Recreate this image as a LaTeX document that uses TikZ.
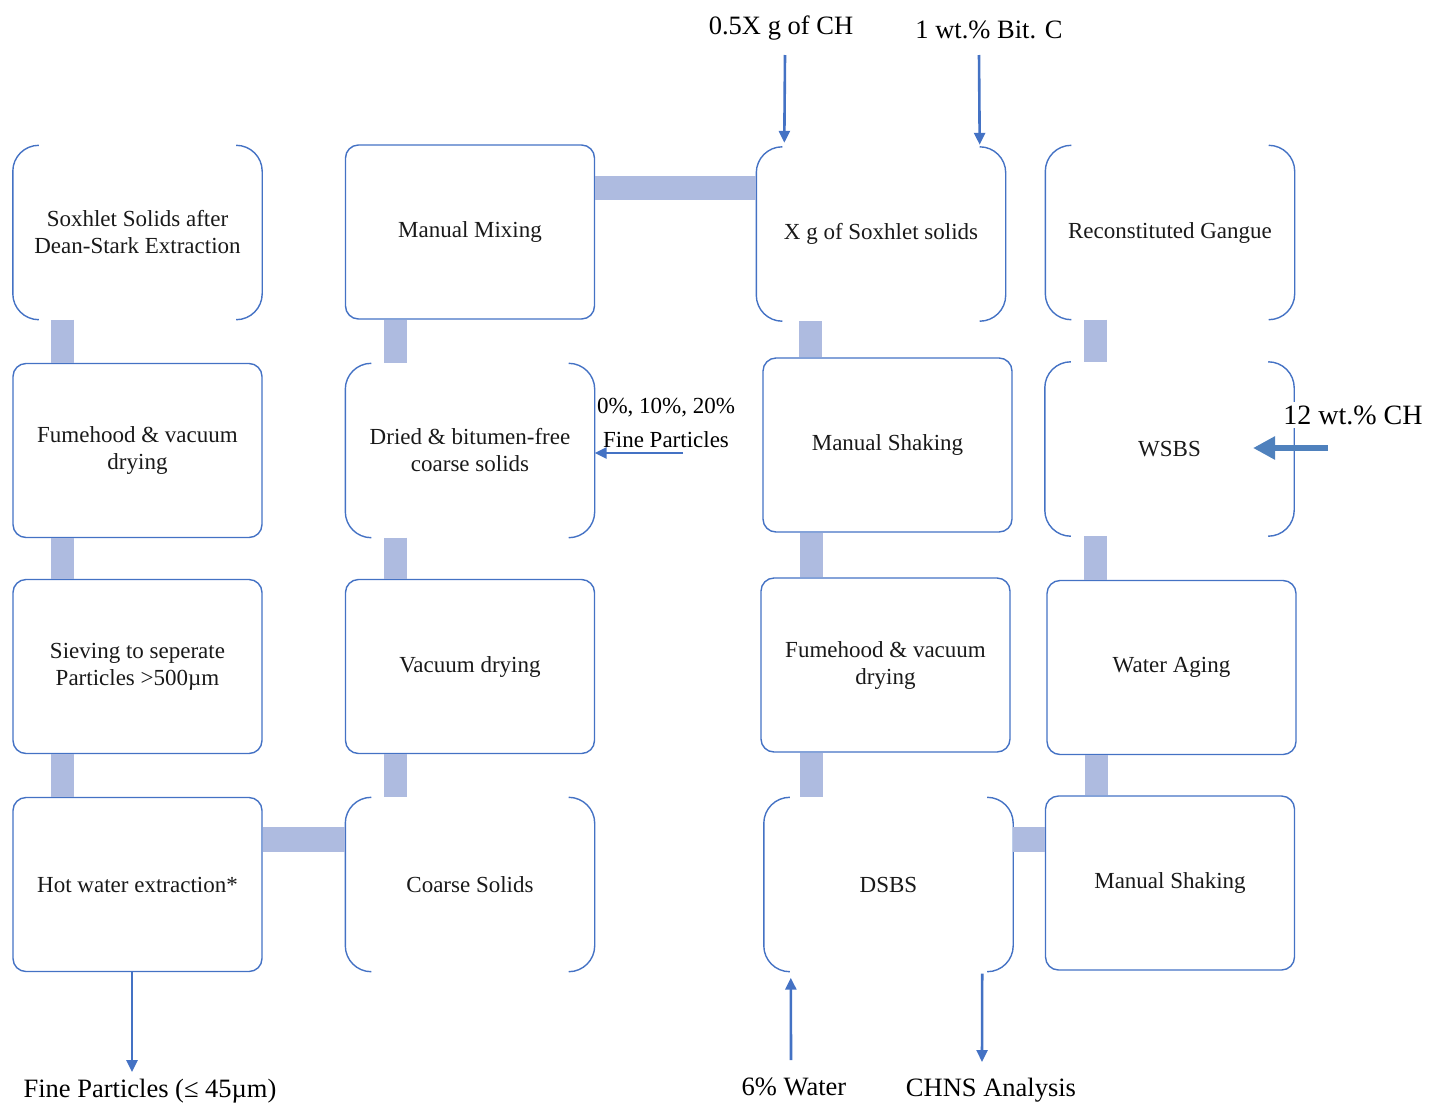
\documentclass[tikz,border=0pt]{standalone}
\usepackage{fontspec}
\setmainfont{Liberation Serif}
\usetikzlibrary{arrows.meta,calc}
\definecolor{boxblue}{HTML}{4472C4}
\definecolor{barblue}{HTML}{AEBBE0}
\definecolor{arrblue}{HTML}{4472C4}
\definecolor{fatblue}{HTML}{4F81BD}
\tikzset{
  proc/.style={minimum width=249pt, minimum height=174pt, inner sep=0pt, align=center,
    font=\fontsize{23}{27}\selectfont, text=black!90},
  rbox/.style={proc, draw=boxblue, line width=1.4pt, rounded corners=13pt},
  bbox/.style={proc},
  boxline/.style={draw=boxblue, line width=1.4pt},
  bar/.style={draw=barblue, line width=23pt},
  arr/.style={draw=arrblue, line width=2.6pt, -{Triangle[length=12pt,width=11pt]}},
  fatarr/.style={draw=fatblue, line width=6pt, -{Triangle[length=22pt,width=22pt]}},
  lab/.style={inner sep=0pt, font=\fontsize{26.5}{30}\selectfont, text=black},
  smalllab/.style={inner sep=0pt, align=center, font=\fontsize{23}{34}\selectfont, text=black},
}
\newcommand\bracketbox[1]{%
  \draw[boxline, rounded corners=26pt] ([xshift=26pt]#1.north west) -- (#1.north west) -- (#1.south west) -- ([xshift=26pt]#1.south west);
  \draw[boxline, rounded corners=26pt] ([xshift=-26pt]#1.north east) -- (#1.north east) -- (#1.south east) -- ([xshift=-26pt]#1.south east);}
\begin{document}
\begin{tikzpicture}[x=1pt, y=-1pt]
\useasboundingbox (0,0) rectangle (1431,1106);
% column 1
\node[bbox] (soxA) at (137.5,232.5) {Soxhlet Solids after\\Dean-Stark Extraction};
\node[rbox] (fume1) at (137.5,450.5) {Fumehood \& vacuum\\drying};
\node[rbox] (sieve) at (137.5,666.5) {Sieving to seperate\\Particles >500µm};
\node[rbox] (hot) at (137.5,884.5) {Hot water extraction*};
% column 2
\node[rbox] (mix) at (470,232) {Manual Mixing};
\node[bbox] (dried) at (470,450.5) {Dried \& bitumen-free\\coarse solids};
\node[rbox] (vac) at (470,666.5) {Vacuum drying};
\node[bbox] (coarse) at (470,884.5) {Coarse Solids};
% column 3
\node[bbox] (xg) at (881,234) {X g of Soxhlet solids};
\node[rbox] (shake1) at (887.5,445) {Manual Shaking};
\node[rbox] (fume2) at (885.5,665) {Fumehood \& vacuum\\drying};
\node[bbox] (dsbs) at (888.5,884.5) {DSBS};
% column 4
\node[bbox] (gangue) at (1170,232.5) {Reconstituted Gangue};
\node[bbox] (wsbs) at (1169.5,449) {WSBS};
\node[rbox] (aging) at (1171.5,667.5) {Water Aging};
\node[rbox] (shake2) at (1170,883) {Manual Shaking};
% brackets
\bracketbox{soxA}
\bracketbox{dried}
\bracketbox{coarse}
\bracketbox{xg}
\bracketbox{dsbs}
\bracketbox{gangue}
\bracketbox{wsbs}
% vertical bars
\draw[bar] ([xshift=-75pt]soxA.south) -- ([xshift=-75pt]soxA.south |- fume1.north);
\draw[bar] ([xshift=-75pt]fume1.south) -- ([xshift=-75pt]fume1.south |- sieve.north);
\draw[bar] ([xshift=-75pt]sieve.south) -- ([xshift=-75pt]sieve.south |- hot.north);
\draw[bar] ([xshift=-75pt]mix.south) -- ([xshift=-75pt]mix.south |- dried.north);
\draw[bar] ([xshift=-75pt]dried.south) -- ([xshift=-75pt]dried.south |- vac.north);
\draw[bar] ([xshift=-75pt]vac.south) -- ([xshift=-75pt]vac.south |- coarse.north);
\draw[bar] ([xshift=-71pt]xg.south) -- ([xshift=-71pt]xg.south |- shake1.north);
\draw[bar] ([xshift=-76pt]shake1.south) -- ([xshift=-76pt]shake1.south |- fume2.north);
\draw[bar] ([xshift=-74pt]fume2.south) -- ([xshift=-74pt]fume2.south |- dsbs.north);
\draw[bar] ([xshift=-75pt]gangue.south) -- ([xshift=-75pt]gangue.south |- wsbs.north);
\draw[bar] ([xshift=-74pt]wsbs.south) -- ([xshift=-74pt]wsbs.south |- aging.north);
\draw[bar] ([xshift=-75pt]aging.south) -- ([xshift=-75pt]aging.south |- shake2.north);
% horizontal bars
\draw[bar, line width=24pt] ([yshift=44pt]mix.east) -- ([yshift=44pt]mix.east -| xg.west);
\draw[bar, line width=25pt] ([yshift=45pt]hot.east) -- ([yshift=45pt]hot.east -| coarse.west);
\draw[bar, line width=25pt] ([yshift=45pt]dsbs.east) -- ([yshift=45pt]dsbs.east -| shake2.west);
% labels
\node[lab] (lch) at (781,28) {0.5X g of CH};
\node[lab] (lbit) at (989,30) {1 wt.\% Bit. C};
\node[lab, fill=white, inner ysep=3pt, font=\fontsize{28}{32}\selectfont] (l12) at (1353,415) {12 wt.\% CH};
\node[smalllab] (lfine) at (666,423) {0\%, 10\%, 20\%\\Fine Particles};
\node[lab] (lfp) at (150,1091) {Fine Particles (≤ 45µm)};
\node[lab] (lwater) at (794,1087) {6\% Water};
\node[lab] (lchns) at (991,1090) {CHNS Analysis};
% arrow end coordinates
\coordinate (cch) at (785,55);
\coordinate (cbit) at (979,55);
\coordinate (cfine) at (683,453);
\coordinate (c12) at (1328,448);
\coordinate (cfp) at (132,1072);
\coordinate (cwater) at (791,1060);
\coordinate (cchns) at (982,1062);
% arrows
\draw[arr] (cch) -- ([xshift=28pt,yshift=4pt]xg.north west);
\draw[arr] (cbit) -- ([xshift=-26pt,yshift=2pt]xg.north east);
\draw[arr] (cfine) -- (cfine -| dried.east);
\draw[fatarr] (c12) -- ++(-75,0) coordinate (c12end);
\draw[arr] ([xshift=-5.5pt]hot.south) -- (cfp);
\draw[arr] (cwater) -- ([xshift=27pt,yshift=-6pt]dsbs.south west);
\draw[arr] ([xshift=-31pt,yshift=-2pt]dsbs.south east) -- (cchns);
\end{tikzpicture}
\end{document}
